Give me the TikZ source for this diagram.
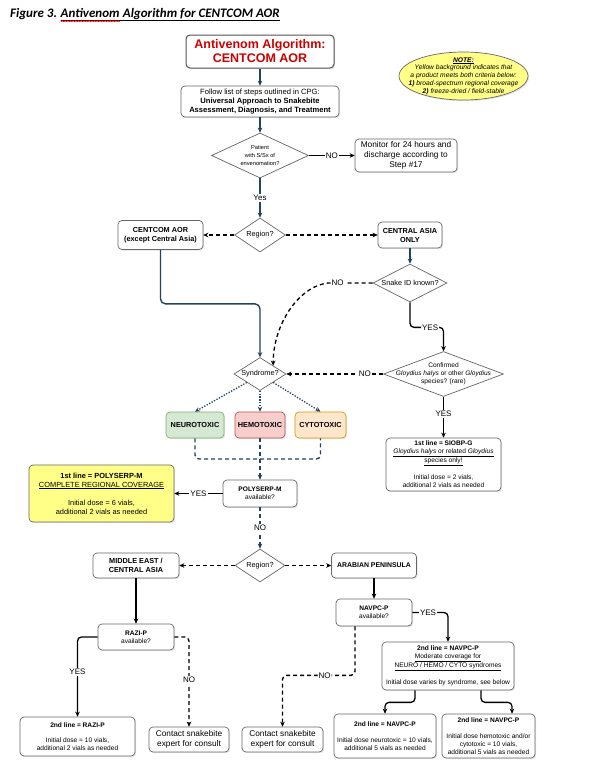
\documentclass[tikz,border=0pt]{standalone}
\usepackage{fontspec}
\setmainfont{Liberation Sans}
\newfontfamily\captionfont{Carlito}
\usepackage{xcolor}
\usetikzlibrary{arrows.meta,shadows,shapes.geometric,decorations.pathmorphing,calc}

\definecolor{avblue}{HTML}{23445D}
\definecolor{boxgray}{HTML}{666666}
\definecolor{avred}{HTML}{CC0000}
\definecolor{noteyellow}{HTML}{FFFF88}
\definecolor{neurofill}{HTML}{D5E8D4}
\definecolor{neurodraw}{HTML}{82B366}
\definecolor{hemofill}{HTML}{F8CECC}
\definecolor{hemodraw}{HTML}{B85450}
\definecolor{cytofill}{HTML}{FFE6CC}
\definecolor{cytodraw}{HTML}{D79B00}

\newcommand{\avtiny}{\fontsize{5.7}{7.7}\selectfont}
\newcommand{\avsmall}{\fontsize{6.6}{7.9}\selectfont}
\newcommand{\avnote}{\fontsize{6.7}{7.8}\selectfont}
\newcommand{\avlab}{\fontsize{7.3}{9}\selectfont}
\newcommand{\avfollow}{\fontsize{7.6}{9}\selectfont}
\newcommand{\avyellow}{\fontsize{7.4}{9}\selectfont}
\newcommand{\avbig}{\fontsize{8.3}{9.7}\selectfont}
\newcommand{\avedge}{\fontsize{8}{9}\selectfont}
\newcommand{\avhead}{\fontsize{12.5}{14}\selectfont}
\newcommand{\avcaption}{\captionfont\bfseries\itshape\fontsize{13}{15}\selectfont}

\begin{document}
\begin{tikzpicture}[x=1pt,y=-1pt,
  >={Stealth[length=5pt,width=4.6pt]},
  box/.style={draw=boxgray, line width=0.7pt, rounded corners=4pt, fill=white,
    align=center, inner sep=0pt,
    drop shadow={shadow xshift=1.2pt, shadow yshift=-1.2pt, opacity=0.2}},
  tox/.style={box, font=\avlab\bfseries, minimum height=26pt},
  dia/.style={draw=boxgray, line width=0.7pt, diamond, fill=white, inner sep=0pt},
  diatext/.style={align=center, inner sep=0pt},
  captext/.style={anchor=base west, inner sep=0pt, font=\avcaption},
  blueline/.style={draw=avblue, line width=1.4pt, ->},
  blackline/.style={draw=black, line width=1.3pt, ->},
  blackdash/.style={blackline, dash pattern=on 4pt off 3pt},
  bluedash/.style={draw=avblue, line width=1.4pt, dash pattern=on 4pt off 3pt},
  bluedot/.style={draw=avblue, line width=1.3pt, dash pattern=on 1.3pt off 1.5pt, ->},
  lab/.style={fill=white, inner sep=1pt, font=\avedge}]

  \path[use as bounding box, fill=white] (0,0) rectangle (613,777);

  \node[captext] (capnum) at (10,17) {Figure 3.\kern0.25em};
  \node[captext] (capword) at (capnum.base east) {\underline{Antivenom\vphantom{g}}};
  \node[captext] (caprest) at (capword.base east) {\underline{\ Algorithm for CENTCOM AOR}};
  \draw[red, line width=0.45pt, decorate, decoration={zigzag, segment length=1.6pt, amplitude=0.6pt}]
    ([yshift=-4.2pt]capword.base west) -- ([yshift=-4.2pt]capword.base east);

  \node[box, draw=boxgray!80!black, line width=1pt, text=avred, font=\avhead\bfseries,
    minimum width=148pt, minimum height=33pt] (top) at (260,51.5) {Antivenom Algorithm:\\CENTCOM AOR};
  \node[box, font=\avfollow, minimum width=158pt, minimum height=31pt] (follow) at (260,101.5)
    {Follow list of steps outlined in CPG:\\\textbf{Universal Approach to Snakebite}\\\textbf{Assessment, Diagnosis, and Treatment}};

  \node[ellipse, draw=boxgray, line width=0.7pt, fill=noteyellow, inner sep=0pt,
    minimum width=129pt, minimum height=48pt,
    drop shadow={shadow xshift=1.2pt, shadow yshift=-1.2pt, opacity=0.2}] (note) at (463.5,76) {};
  \node[diatext, font=\avnote\itshape] (notetext) at (note)
    {\underline{\textbf{NOTE:}}\\Yellow background indicates that\\a product meets both criteria below:\\
     \textbf{1)} broad-spectrum regional coverage\\\textbf{2)} freeze-dried / field-stable};

  \node[dia, minimum width=97pt, minimum height=45pt] (d1) at (260,155.5) {};
  \node[diatext, font=\avtiny] (d1text) at (d1) {Patient\\with S/Sx of\\envenomation?};
  \node[box, font=\avbig, minimum width=102pt, minimum height=33pt] (monitor) at (406,155.5)
    {Monitor for 24 hours and\\discharge according to\\Step \#17};

  \node[dia, minimum width=51pt, minimum height=34pt] (r1) at (260,235) {};
  \node[diatext, font=\avlab] (r1text) at (r1) {Region?};
  \node[box, font=\avlab\bfseries, minimum width=85pt, minimum height=29pt] (centcom) at (160.5,235)
    {CENTCOM AOR\\(except Central Asia)};
  \node[box, font=\avlab\bfseries, minimum width=64pt, minimum height=26pt] (casia) at (410,235)
    {CENTRAL ASIA\\ONLY};

  \node[dia, minimum width=74pt, minimum height=38pt] (snake) at (410,283) {};
  \node[diatext, font=\avlab] (snaketext) at (snake) {Snake ID known?};

  \node[dia, minimum width=120pt, minimum height=45pt] (conf) at (443.5,374) {};
  \node[diatext, font=\avsmall] (conftext) at (conf)
    {Confirmed\\\textit{Gloydius halys} or other \textit{Gloydius}\\species? (rare)};

  \node[dia, minimum width=52pt, minimum height=33pt] (syn) at (260,374) {};
  \node[diatext, font=\avlab] (syntext) at (syn) {Syndrome?};

  \node[box, font=\avsmall, minimum width=115pt, minimum height=53pt] (siobp) at (443.5,464.5)
    {\textbf{1st line = SIOBP-G}\\\underline{\textit{Gloydius halys} or related \textit{Gloydius}}\\\underline{species only!}\\[7.9pt]
     Initial dose = 2 vials,\\additional 2 vials as needed};

  \node[tox, fill=neurofill, draw=neurodraw, minimum width=58pt] (neuro) at (195,425) {NEUROTOXIC};
  \node[tox, fill=hemofill, draw=hemodraw, minimum width=50pt] (hemo) at (260,425) {HEMOTOXIC};
  \node[tox, fill=cytofill, draw=cytodraw, minimum width=51pt] (cyto) at (320.5,425) {CYTOTOXIC};
  \coordinate (merge) at (260,459);

  \node[box, font=\avsmall, minimum width=74pt, minimum height=27pt] (poly) at (260,493.5)
    {\textbf{POLYSERP-M}\\available?};
  \node[box, fill=noteyellow, font=\avyellow, minimum width=145pt, minimum height=57pt] (polyline) at (101.5,493.5)
    {\textbf{1st line = POLYSERP-M}\\\underline{COMPLETE REGIONAL COVERAGE}\\[9pt]
     Initial dose = 6 vials,\\additional 2 vials as needed};

  \node[dia, minimum width=50pt, minimum height=33pt] (r2) at (260,565.5) {};
  \node[diatext, font=\avlab] (r2text) at (r2) {Region?};
  \node[box, font=\avlab\bfseries, minimum width=86pt, minimum height=25pt] (mideast) at (136,565.5)
    {MIDDLE EAST /\\CENTRAL ASIA};
  \node[box, font=\fontsize{6.9}{8}\selectfont\bfseries, minimum width=85pt, minimum height=25pt] (arabia) at (374,565.5)
    {ARABIAN PENINSULA};

  \node[box, font=\avsmall, minimum width=76pt, minimum height=26pt] (razi) at (136,637)
    {\textbf{RAZI-P}\\available?};
  \node[box, font=\avsmall, minimum width=76pt, minimum height=27pt] (navpc) at (374,612.5)
    {\textbf{NAVPC-P}\\available?};
  \node[box, font=\avsmall, minimum width=132pt, minimum height=48pt] (navpcline) at (448,666)
    {\textbf{2nd line = NAVPC-P}\\\underline{Moderate coverage for}\\\underline{NEURO / HEMO / CYTO syndromes}\\[7.9pt]
     Initial dose varies by syndrome, see below};

  \node[box, font=\avsmall, minimum width=115pt, minimum height=39pt] (raziline) at (77.5,736.5)
    {\textbf{2nd line = RAZI-P}\\[7.9pt]Initial dose = 10 vials,\\additional 2 vials as needed};
  \node[box, font=\avbig, minimum width=80pt, minimum height=25pt] (expertA) at (189,739.5)
    {Contact snakebite\\expert for consult};
  \node[box, font=\avbig, minimum width=81pt, minimum height=25pt] (expertB) at (282.5,739.5)
    {Contact snakebite\\expert for consult};
  \node[box, font=\avsmall, minimum width=102pt, minimum height=44pt] (neurodose) at (385,736)
    {\textbf{2nd line = NAVPC-P}\\[7.9pt]Initial dose neurotoxic = 10 vials,\\additional 5 vials as needed};
  \node[box, font=\avsmall, minimum width=93pt, minimum height=44pt] (hemodose) at (488.5,736)
    {\textbf{2nd line = NAVPC-P}\\[7.9pt]Initial dose hemotoxic and/or\\cytotoxic = 10 vials,\\additional 5 vials as needed};

  \draw[blueline] (top.south) -- (follow.north);
  \draw[blueline] (follow.south) -- (d1.north);
  \draw[blueline] (d1.south) -- node[lab] (yes1) {Yes} (r1.north);
  \draw[blackline] (d1.east) -- node[lab] (no1) {NO} (monitor.west);
  \draw[blackdash] (r1.west) -- (centcom.east);
  \draw[blackdash] (r1.east) -- (casia.west);
  \draw[blueline] (casia.south) -- (snake.north);
  \draw[blueline, rounded corners=5pt] (centcom.south) -- ++(0,54) -| (syn.north);
  \draw[blackdash] (snake.west) -- node[lab, pos=0.78] (no2) {NO} ++(-45,0)
    .. controls +(-30,4) and +(0,-40) .. (syn.north east);
  \draw[blackline, rounded corners=4pt] (snake.south) -- ++(0,25) -| node[lab, pos=0.3] (yes2) {YES} (conf.north);
  \draw[blackdash] (conf.west) -- node[lab, pos=0.19] (no3) {NO} (syn.east);
  \draw[blackline] (conf.south) -- node[lab, pos=0.42] (yes3) {YES} (siobp.north);

  \draw[bluedot] (syn.south west) -- (neuro.north);
  \draw[bluedot] (syn.south) -- (hemo.north);
  \draw[bluedot] (syn.south east) -- (cyto.north);
  \draw[bluedash, rounded corners=4pt] (neuro.south) |- (merge) -| (cyto.south);
  \draw[bluedash, ->] (hemo.south) -- (poly.north);
  \draw[blackline] (poly.west) -- node[lab] (yes4) {YES} (polyline.east);
  \draw[bluedash, ->] (poly.south) -- node[lab] (no4) {NO} (r2.north);

  \draw[blackdash] (r2.west) -- (mideast.east);
  \draw[blackdash] (r2.east) -- (arabia.west);
  \draw[blackline] (mideast.south) -- (razi.north);
  \draw[blackline] (arabia.south) -- (navpc.north);
  \draw[blackline, rounded corners=4pt] (razi.west) -| node[lab, pos=0.72] (yes5) {YES} (raziline.north);
  \draw[blackdash, rounded corners=4pt] (razi.east) -| node[lab, pos=0.74] (no5) {NO} (expertA.north);
  \draw[blackline, rounded corners=4pt] (navpc.east) -| node[lab, pos=0.22] (yes6) {YES} (navpcline.north);
  \draw[blackdash, rounded corners=4pt] ([xshift=-19pt]navpc.south) -- ++(0,49)
    -| node[lab, pos=0.21] (no6) {NO} (expertB.north);
  \draw[blackline, rounded corners=4pt] ([xshift=-33pt]navpcline.south) -- ++(0,12) -| (neurodose.north);
  \draw[blackline, rounded corners=4pt] ([xshift=33pt]navpcline.south) -- ++(0,12) -| ([xshift=23.5pt]hemodose.north);
\end{tikzpicture}
\end{document}
